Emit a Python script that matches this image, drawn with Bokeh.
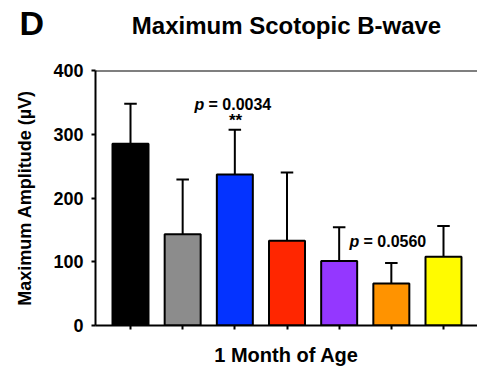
import math
from bokeh.plotting import figure
from bokeh.models import Range1d, FixedTicker, Label, Span, ColumnDataSource, Title
from bokeh.embed import file_html
from bokeh.resources import INLINE

# ---- data ----
groups = [1, 2, 3, 4, 5, 6, 7]
means = [285, 143, 237, 133, 101, 66, 108]
sd_upper = [63, 86, 70, 107, 53, 32, 48]
colors = ["#000000", "#8c8c8c", "#0433ff", "#ff2600", "#9437ff", "#ff9300", "#fffb00"]
y_ticks = [0, 100, 200, 300, 400]
title_text = "Maximum Scotopic B-wave"
panel_letter = "D"
y_label = "Maximum Amplitude (µV)"
x_label = "1 Month of Age"
p_blue = "0.0034"
p_orange = "0.0560"

FONT = "Liberation Sans"

# ---- geometry (page px) ----
W, H = 477, 369
F_LEFT, F_TOP, F_BOTTOM, F_RIGHT = 95, 70, 325, 477
TICK1, TICK7 = 130, 443
sx = (TICK7 - TICK1) / 6.0
x0 = 1 - (TICK1 - F_LEFT) / sx
x1 = 1 + (F_RIGHT - TICK1) / sx
sy = (F_BOTTOM - F_TOP) / 400.0


def px2x(px):
    return 1 + (px - TICK1) / sx


def py2y(py):
    return (F_BOTTOM - py) / sy


p = figure(width=W, height=H, output_backend="svg", toolbar_location=None, title=None,
           x_range=Range1d(x0, x1), y_range=Range1d(0, 400),
           min_border_left=F_LEFT, min_border_right=W - F_RIGHT,
           min_border_top=F_TOP, min_border_bottom=H - F_BOTTOM)
p.outline_line_color = None
p.grid.visible = False
p.background_fill_color = "white"
p.border_fill_color = "white"

tops = [m + s for m, s in zip(means, sd_upper)]
src = ColumnDataSource(dict(x=groups, m=means, top=tops, c=colors,
                            cl=[g - 0.12 for g in groups], cr=[g + 0.12 for g in groups]))

p.segment(x0="x", y0="m", x1="x", y1="top", source=src, line_color="black", line_width=2)
p.segment(x0="cl", y0="top", x1="cr", y1="top", source=src, line_color="black", line_width=2)
p.vbar(x="x", top="m", bottom=0, width=0.69, source=src, fill_color="c",
       line_color="black", line_width=2)

p.add_layout(Span(location=400, dimension="width", line_color="black", line_width=2))

# titles (main title nearest the frame, panel letter outside it)
main_title = Title(text=title_text + "\n ", align="center", text_font=FONT,
                   text_font_size="24px", text_font_style="bold", text_color="black",
                   standoff=10)
p.add_layout(main_title, "above")
letter = Title(text=panel_letter, align="left", offset=-(F_LEFT - 19),
               text_font=FONT, text_font_size="34px", text_font_style="bold",
               text_color="black", standoff=-75)
p.add_layout(letter, "above")

# axes
p.yaxis.ticker = FixedTicker(ticks=y_ticks)
p.yaxis.minor_tick_line_color = None
p.yaxis.axis_line_width = 2
p.yaxis.major_tick_line_width = 2
p.yaxis.major_tick_in = 0
p.yaxis.major_tick_out = 4
p.yaxis.major_label_standoff = 8
p.yaxis.major_label_text_font = FONT
p.yaxis.major_label_text_font_style = "bold"
p.yaxis.major_label_text_font_size = "18px"
p.yaxis.major_label_text_color = "black"
p.yaxis.axis_label = y_label
p.yaxis.axis_label_text_font = FONT
p.yaxis.axis_label_text_font_style = "bold"
p.yaxis.axis_label_text_font_size = "18px"
p.yaxis.axis_label_text_color = "black"
p.yaxis.axis_label_standoff = 15

p.xaxis.ticker = FixedTicker(ticks=groups)
p.xaxis.minor_tick_line_color = None
p.xaxis.axis_line_width = 2
p.xaxis.major_tick_line_width = 2
p.xaxis.major_tick_in = 0
p.xaxis.major_tick_out = 4
p.xaxis.major_label_overrides = {g: "" for g in groups}
p.xaxis.major_label_text_font_size = "0px"
p.xaxis.major_label_standoff = 0
p.xaxis.axis_label = x_label
p.xaxis.axis_label_text_font = FONT
p.xaxis.axis_label_text_font_style = "bold"
p.xaxis.axis_label_text_font_size = "20px"
p.xaxis.axis_label_text_color = "black"
p.xaxis.axis_label_standoff = 14

# p-value annotations
def lab(text, px, py, size, align="left", style="bold"):
    p.add_layout(Label(x=px2x(px), y=py2y(py), text=text, text_font=FONT,
                       text_font_size=size, text_font_style=style, text_align=align,
                       text_baseline="alphabetic", text_color="black"))

lab("p", 194, 104, "16px", style="bold italic")
lab("= " + p_blue, 208, 104, "16px")
lab("**", 235, 120, "17px", align="center")
lab("p", 349, 241, "16px", style="bold italic")
lab("= " + p_orange, 363, 241, "16px")

open("out.html", "w").write(file_html(p, INLINE))
